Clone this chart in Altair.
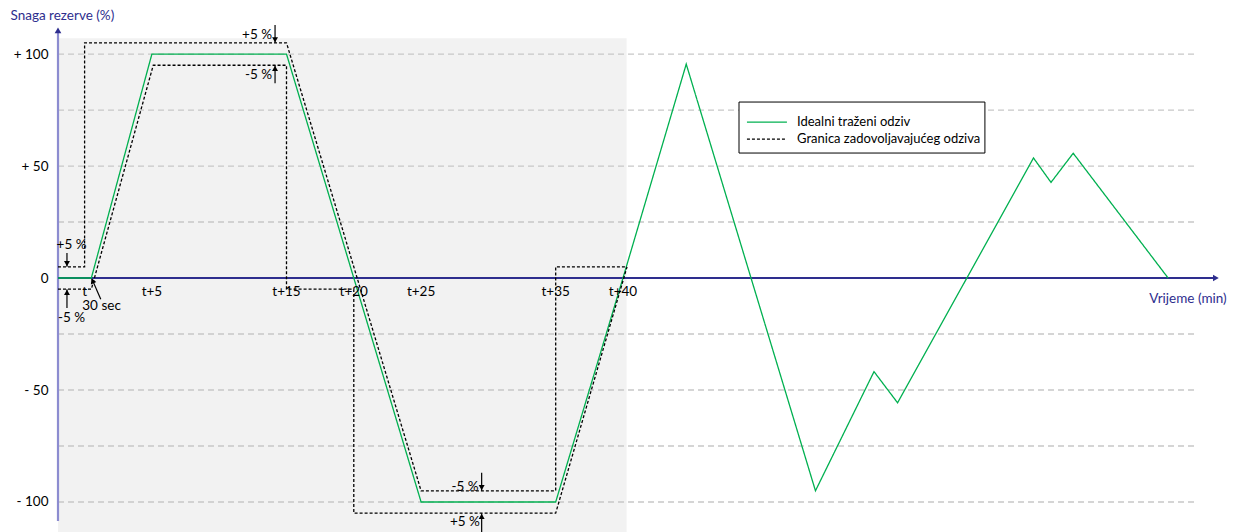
import altair as alt
import pandas as pd

# ---------------- data ----------------
X_MIN, X_MAX = -1.976, 84.95
Y_MIN, Y_MAX = -113.4, 115.2

SERIES = ["Idealni traženi odziv", "Granica zadovoljavajućeg odziva"]

ideal_x = [X_MIN, 0.5, 5, 15, 20, 25, 35, 40, 44.7, 54.3, 58.65, 60.4, 70.5, 71.8, 73.45, 80.5]
ideal_y = [0, 0, 100, 100, 0, -100, -100, 0, 95.5, -95, -41.8, -55.7, 53.6, 42.7, 55.7, 0]

upper_x = [X_MIN, 0, 0, 15, 25, 35, 35, 40.3]
upper_y = [5, 5, 105, 105, -95, -95, 5, 5]
lower_x = [X_MIN, 0.5, 5.1, 15, 15, 20, 20, 35, 40.3]
lower_y = [-5, -5, 95, 95, -5, -5, -105, -105, 5]

tick_values = [0, 5, 15, 20, 25, 35, 40]
tick_labels = ["t", "t+5", "t+15", "t+20", "t+25", "t+35", "t+40"]

y_label_values = [-100, -50, 0, 50, 100]
grid_values = [-100, -75, -50, -25, 25, 50, 75, 100]
grid_end = 82.7

shade_x, shade_x2 = [X_MIN], [40.27]
shade_y, shade_y2 = [Y_MIN], [107.1]

ann_text = ["+5 %", "-5 %", "+5 %", "-5 %", "30 sec", "-5 %", "+5 %"]
ann_x = [12.81, 12.92, -0.97, -0.97, 1.26, 28.26, 28.26]
ann_y = [108.5, 90.6, 14.7, -17.9, -12.5, -93.3, -108.9]

arrow_x = [14.15, 14.15, -1.31, -1.31, 29.5, 29.5, 1.2]
arrow_x2 = [14.15, 14.15, -1.31, -1.31, 29.5, 29.5, 0.55]
arrow_y = [113, 87, 11.2, -13.4, -87, -113.4, -9.5]
arrow_y2 = [105, 95, 5, -5, -95, -105, -0.5]
head_x = [14.15, 14.15, -1.31, -1.31, 29.5, 29.5, 0.59]
head_y = [106.4, 93.6, 6.4, -6.4, -93.6, -106.4, -1.3]
head_angle = [180, 0, 180, 0, 180, 0, 336]

axis_x_end = 84.0
axis_y_bottom, axis_y_top = -108.5, 110.0

x_title = "Vrijeme (min)"
x_title_x, x_title_y = 84.85, -9.4
y_title = "Snaga rezerve (%)"

# legend box (drawn as marks)
legend_box = {"x": [48.62], "x2": [66.89], "y": [78.57], "y2": [55.8]}
legend_sym_x, legend_sym_x2 = 49.21, 52.18
legend_row_y = [69.64, 62.05]
legend_text_x = 52.93

FONT = "Lato"
FS = 13.5
LEG_FS = 13
NAVY = "#2e2e8e"
LAVENDER = "#8c8cd0"
GREEN = "#00b050"

# ---------------- frames ----------------
rows = []
for i, (x, y) in enumerate(zip(ideal_x, ideal_y)):
    rows.append({"x": x, "y": y, "series": SERIES[0], "part": "ideal", "o": i})
for i, (x, y) in enumerate(zip(upper_x, upper_y)):
    rows.append({"x": x, "y": y, "series": SERIES[1], "part": "upper", "o": i})
for i, (x, y) in enumerate(zip(lower_x, lower_y)):
    rows.append({"x": x, "y": y, "series": SERIES[1], "part": "lower", "o": i})
lines_df = pd.DataFrame(rows)

xs = alt.Scale(domain=[X_MIN, X_MAX], nice=False, zero=False)
ys = alt.Scale(domain=[Y_MIN, Y_MAX], nice=False, zero=False)
color_scale = alt.Scale(domain=SERIES, range=[GREEN, "black"])
dash_scale = alt.Scale(domain=SERIES, range=[[1, 0], [3, 2]])

label_expr = ("datum.value > 0 ? '+ ' + datum.value : "
              "(datum.value < 0 ? '- ' + abs(datum.value) : '0\u00a0\u00a0')")
y_axis = alt.Axis(values=y_label_values, labelExpr=label_expr, domain=False, ticks=False,
                  grid=False, labelPadding=10, labelFontSize=FS, labelColor="black",
                  labelFont=FONT, title=y_title, titleAngle=0, titleAlign="left",
                  titleBaseline="middle", titleX=-48, titleY=-5, titleColor=NAVY,
                  titleFontSize=FS, titleFontWeight="normal", titleFont=FONT)


def X(f):
    return alt.X(f, type="quantitative", scale=xs, axis=None)


def Y(f):
    return alt.Y(f, type="quantitative", scale=ys, axis=y_axis)


shade = alt.Chart(pd.DataFrame({"x": shade_x, "x2": shade_x2, "y": shade_y, "y2": shade_y2})).mark_rect(
    color="#f2f2f2").encode(x=X("x"), x2="x2", y=Y("y"), y2="y2")

grid = alt.Chart(pd.DataFrame({"y": grid_values, "x": [X_MIN] * len(grid_values),
                               "x2": [grid_end] * len(grid_values)})).mark_rule(
    color="#c8c8c8", strokeWidth=1.3, strokeDash=[6, 4]).encode(x=X("x"), x2="x2", y=Y("y"))

yaxis_line = alt.Chart(pd.DataFrame({"x": [X_MIN], "y": [axis_y_bottom], "y2": [axis_y_top]})).mark_rule(
    color=LAVENDER, strokeWidth=2.2).encode(x=X("x"), y=Y("y"), y2="y2")

xaxis_line = alt.Chart(pd.DataFrame({"x": [X_MIN], "x2": [axis_x_end], "y": [0]})).mark_rule(
    color=NAVY, strokeWidth=2).encode(x=X("x"), x2="x2", y=Y("y"))

axis_heads = alt.Chart(pd.DataFrame({"x": [X_MIN, axis_x_end + 0.05], "y": [axis_y_top + 0.6, 0],
                                     "a": [0, 90]})).mark_point(
    shape="triangle-up", filled=True, color=NAVY, size=45, opacity=1).encode(
    x=X("x"), y=Y("y"), angle=alt.Angle("a:Q", scale=None))

lines = alt.Chart(lines_df).mark_line(strokeWidth=1.3).encode(
    x=X("x"), y=Y("y"),
    color=alt.Color("series:N", scale=color_scale, legend=None),
    strokeDash=alt.StrokeDash("series:N", scale=dash_scale, legend=None),
    detail="part:N", order="o:Q")

leg_box = alt.Chart(pd.DataFrame(legend_box)).mark_rect(
    fill="white", stroke="black", strokeWidth=1).encode(x=X("x"), x2="x2", y=Y("y"), y2="y2")

leg_df = pd.DataFrame({"series": SERIES, "x": [legend_sym_x] * 2, "x2": [legend_sym_x2] * 2,
                       "y": legend_row_y, "tx": [legend_text_x] * 2})
leg_sym = alt.Chart(leg_df).mark_rule(strokeWidth=1.3).encode(
    x=X("x"), x2="x2", y=Y("y"),
    color=alt.Color("series:N", scale=color_scale, legend=None),
    strokeDash=alt.StrokeDash("series:N", scale=dash_scale, legend=None))
leg_txt = alt.Chart(leg_df).mark_text(font=FONT, fontSize=LEG_FS, color="black", align="left",
                                      baseline="middle").encode(
    x=X("tx"), y=Y("y"), text="series:N")

arrows = alt.Chart(pd.DataFrame({"x": arrow_x, "x2": arrow_x2, "y": arrow_y, "y2": arrow_y2})).mark_rule(
    color="black", strokeWidth=1.2).encode(x=X("x"), x2="x2", y=Y("y"), y2="y2")

heads = alt.Chart(pd.DataFrame({"x": head_x, "y": head_y, "a": head_angle})).mark_point(
    shape="triangle-up", filled=True, color="black", size=35, opacity=1).encode(
    x=X("x"), y=Y("y"), angle=alt.Angle("a:Q", scale=None))

ann = alt.Chart(pd.DataFrame({"x": ann_x, "y": ann_y, "t": ann_text})).mark_text(
    font=FONT, fontSize=FS, color="black", align="center", baseline="middle").encode(
    x=X("x"), y=Y("y"), text="t:N")

ticks = alt.Chart(pd.DataFrame({"x": tick_values, "y": [0] * len(tick_values), "t": tick_labels})).mark_text(
    font=FONT, fontSize=FS, color="black", align="center", baseline="middle", dy=14).encode(
    x=X("x"), y=Y("y"), text="t:N")

xtitle = alt.Chart(pd.DataFrame({"x": [x_title_x], "y": [x_title_y], "t": [x_title]})).mark_text(
    font=FONT, fontSize=FS, color=NAVY, align="right", baseline="middle").encode(
    x=X("x"), y=Y("y"), text="t:N")

chart = alt.layer(shade, grid, yaxis_line, xaxis_line, lines, leg_box, leg_sym, leg_txt,
                  arrows, heads, ann, ticks, xtitle, axis_heads).properties(
    width=1170, height=512,
    autosize=alt.AutoSizeParams(type="none"),
    padding={"left": 50, "top": 12, "right": 0, "bottom": 0},
).configure(background="white", view=alt.ViewConfig(stroke=None))

chart.save("out.html", embed_options={"renderer": "svg", "actions": False})
